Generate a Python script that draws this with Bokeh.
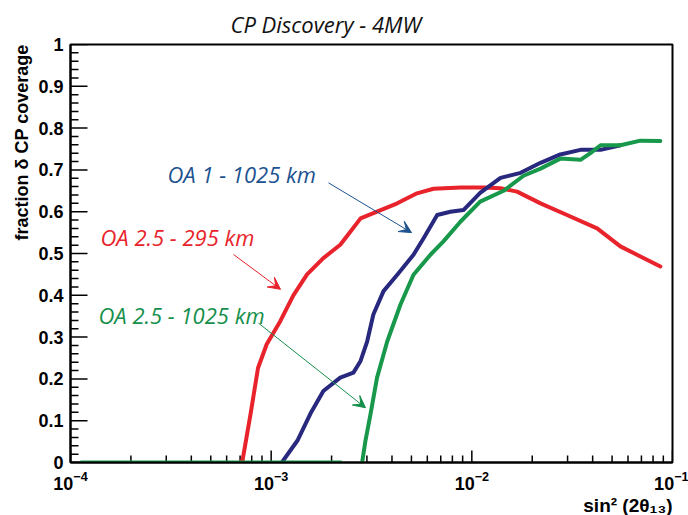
import math
from bokeh.plotting import figure
from bokeh.models import Range1d, FixedTicker, Label, Arrow, VeeHead, Title, LogTickFormatter
from bokeh.embed import file_html
from bokeh.resources import INLINE

# ---------------- data ----------------
red_x = [7.0e-4, 7.2e-4, 7.9e-4, 8.6e-4, 9.5e-4, 1.11e-3, 1.29e-3, 1.51e-3, 1.82e-3,
         2.21e-3, 2.48e-3, 2.79e-3, 3.37e-3, 4.25e-3, 5.33e-3, 6.44e-3, 8.8e-3,
         1.15e-2, 1.39e-2, 1.68e-2, 2.20e-2, 2.98e-2, 4.21e-2, 5.50e-2, 6.92e-2, 8.70e-2]
red_y = [0.0, 0.005, 0.117, 0.226, 0.283, 0.338, 0.40, 0.45, 0.489,
         0.521, 0.552, 0.584, 0.60, 0.62, 0.644, 0.655, 0.658,
         0.658, 0.656, 0.648, 0.62, 0.592, 0.56, 0.517, 0.493, 0.469]

blue_x = [1.13e-3, 1.35e-3, 1.57e-3, 1.82e-3, 2.21e-3, 2.57e-3, 2.79e-3, 3.01e-3,
          3.23e-3, 3.63e-3, 4.25e-3, 5.12e-3, 5.74e-3, 6.72e-3, 7.82e-3, 9.08e-3,
          1.10e-2, 1.39e-2, 1.75e-2, 2.20e-2, 2.76e-2, 3.48e-2, 4.38e-2, 5.50e-2]
blue_y = [0.0, 0.052, 0.117, 0.171, 0.203, 0.215, 0.243, 0.29,
          0.354, 0.41, 0.449, 0.497, 0.536, 0.592, 0.60, 0.604,
          0.645, 0.681, 0.693, 0.717, 0.737, 0.748, 0.748, 0.759]

green_flat_x = [1.12e-4, 2.25e-3]
green_flat_y = [0.0, 0.0]
green_x = [2.84e-3, 2.95e-3, 3.13e-3, 3.37e-3, 3.79e-3, 4.41e-3,
           5.12e-3, 6.22e-3, 7.22e-3, 8.77e-3, 1.10e-2, 1.44e-2, 1.81e-2, 2.20e-2,
           2.76e-2, 3.48e-2, 3.90e-2, 4.38e-2, 5.50e-2, 6.92e-2, 8.70e-2]
green_y = [0.0, 0.052, 0.117, 0.203, 0.29, 0.378,
           0.449, 0.497, 0.529, 0.576, 0.624, 0.650, 0.686, 0.703,
           0.727, 0.724, 0.740, 0.759, 0.759, 0.770, 0.769]

x_ticks = [1e-4, 1e-3, 1e-2, 1e-1]
x_minor = [k * 10 ** e for e in (-4, -3, -2) for k in range(2, 10)]
y_ticks = [0.0, 0.1, 0.2, 0.3, 0.4, 0.5, 0.6, 0.7, 0.8, 0.9, 1.0]
y_minor = [round(i * 0.02, 2) for i in range(51) if i % 5 != 0]
y_tick_labels = ["0", "0.1", "0.2", "0.3", "0.4", "0.5", "0.6", "0.7", "0.8", "0.9", "1"]

title_text = "CP Discovery - 4MW"
ylabel_text = "fraction \u03b4 CP coverage"
xlabel_text = "sin\u00b2 (2\u03b8\u2081\u2083)"
ann_texts = ["OA 1 - 1025 km", "OA 2.5 - 295 km", "OA 2.5 - 1025 km"]

RED = "#e8232b"
BLUE = "#27287e"
GREEN = "#17984a"
BLUE_T = "#1d5290"
GREEN_T = "#168f4c"

# ---------------- layout ----------------
W, H = 688, 515
FL, FR, FT, FB = 70, 672, 42, 462      # frame edges in page pixels
XMIN, XMAX, YMIN, YMAX = 1e-4, 1e-1, 0.0, 1.0


def px2x(px):
    return 10 ** (-4 + 3.0 * (px - FL) / (FR - FL))


def py2y(py):
    return (FB - py) / (FB - FT)


def xlen(n_px):          # x position n_px to the right of the left frame edge
    return px2x(FL + n_px)


def ylen(n_px):          # y height of n_px
    return n_px / (FB - FT)


p = figure(width=W, height=H, x_axis_type="log",
           x_range=Range1d(XMIN, XMAX), y_range=Range1d(YMIN, YMAX),
           output_backend="svg", toolbar_location=None,
           min_border_left=FL, min_border_right=W - FR,
           min_border_top=FT, min_border_bottom=H - FB)
p.grid.visible = False
p.background_fill_color = "white"
p.border_fill_color = "white"
p.outline_line_color = "black"
p.outline_line_width = 2

TICKFONT = "Liberation Sans"
AXC = "black"

xa = p.xaxis[0]
xa.ticker = FixedTicker(ticks=x_ticks, minor_ticks=x_minor)
xa.formatter = LogTickFormatter()
xa.major_tick_line_color = None
xa.minor_tick_line_color = None
xa.major_tick_out = 0
xa.minor_tick_out = 0
xa.major_label_text_font = TICKFONT
xa.major_label_text_font_style = "bold"
xa.major_label_text_font_size = "18px"
xa.major_label_text_color = "black"
xa.major_label_standoff = 8
xa.axis_line_width = 2
xa.axis_line_color = AXC

ya = p.yaxis[0]
ya.ticker = FixedTicker(ticks=y_ticks, minor_ticks=y_minor)
ya.major_tick_line_color = None
ya.minor_tick_line_color = None
ya.major_tick_out = 0
ya.minor_tick_out = 0
ya.major_label_overrides = {t: s for t, s in zip(y_ticks, y_tick_labels)}
ya.major_label_text_font = TICKFONT
ya.major_label_text_font_style = "bold"
ya.major_label_text_font_size = "18px"
ya.major_label_text_color = "black"
ya.major_label_standoff = 7
ya.axis_line_width = 2
ya.axis_line_color = AXC

# inward tick marks, placed through the plot scales
p.segment(x0=[XMIN] * len(y_ticks), y0=y_ticks, x1=[xlen(17)] * len(y_ticks), y1=y_ticks,
          line_color="black", line_width=1.5)
p.segment(x0=[XMIN] * len(y_minor), y0=y_minor, x1=[xlen(8)] * len(y_minor), y1=y_minor,
          line_color="black", line_width=1.5)
p.segment(x0=x_ticks, y0=[YMIN] * len(x_ticks), x1=x_ticks, y1=[ylen(12)] * len(x_ticks),
          line_color="black", line_width=1.5)
p.segment(x0=x_minor, y0=[YMIN] * len(x_minor), x1=x_minor, y1=[ylen(7)] * len(x_minor),
          line_color="black", line_width=1.5)

# ---------------- title ----------------
p.title.text = title_text
p.title.align = "left"
p.title.offset = 160
p.title.text_font = "Open Sans"
p.title.text_font_style = "italic"
p.title.text_font_size = "22px"
p.title.text_color = "#111111"
p.title.standoff = 12

# ---------------- axis titles ----------------
p.add_layout(Title(text=ylabel_text, align="right", text_font=TICKFONT,
                   text_font_style="bold", text_font_size="18px",
                   text_color="black", standoff=8), "left")
p.add_layout(Title(text=xlabel_text, align="right", text_font=TICKFONT,
                   text_font_style="bold", text_font_size="19px",
                   text_color="black", standoff=0), "below")

# ---------------- curves ----------------
p.line(red_x, red_y, line_color=RED, line_width=4, line_join="round", line_cap="round")
p.line(blue_x, blue_y, line_color=BLUE, line_width=4, line_join="round", line_cap="round")
p.line(green_flat_x, green_flat_y, line_color=GREEN, line_width=4, line_cap="butt")
p.line(green_x, green_y, line_color=GREEN, line_width=4, line_join="round", line_cap="round")

# ---------------- annotations ----------------
ann = [
    (ann_texts[0], BLUE_T, 167, 172, (328, 181), (411, 231)),
    (ann_texts[1], RED, 100, 235, (233, 253), (280, 288)),
    (ann_texts[2], GREEN_T, 98, 314, (258, 322), (365, 407)),
]
for txt, col, lx, ly, s, e in ann:
    p.add_layout(Label(x=px2x(lx), y=py2y(ly), text=txt, text_align="left",
                       text_baseline="alphabetic", text_font="Open Sans",
                       text_font_style="italic", text_font_size="22px", text_color=col))
    p.add_layout(Arrow(x_start=px2x(s[0]), y_start=py2y(s[1]),
                       x_end=px2x(e[0]), y_end=py2y(e[1]),
                       line_color=col, line_width=1,
                       end=VeeHead(size=12, fill_color=col, line_color=col)))

open("out.html", "w").write(file_html(p, INLINE))
